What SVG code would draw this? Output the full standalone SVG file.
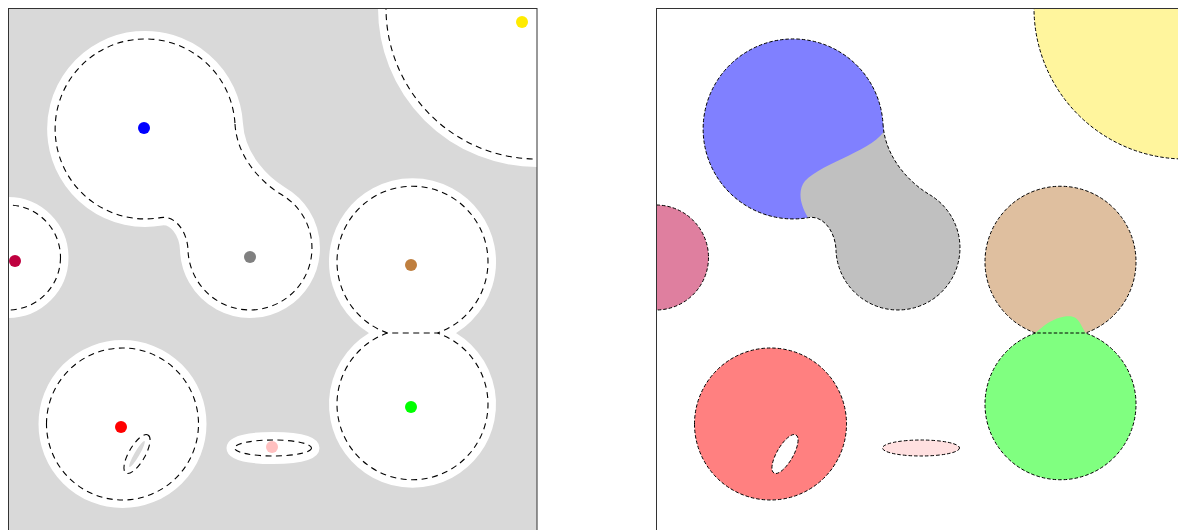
<svg xmlns="http://www.w3.org/2000/svg" xmlns:xlink="http://www.w3.org/1999/xlink" width="1178" height="530" viewBox="0 0 1178 530">
<style>
.halo{fill:#fff;stroke:#fff;stroke-width:16;stroke-linejoin:round}
.dl{fill:none;stroke:#000;stroke-width:1.1;stroke-dasharray:6,4.5}
.dr{stroke:#000;stroke-width:1;stroke-dasharray:3.5,2}
.frame{fill:none;stroke:#333;stroke-width:1}
</style>
<defs>
<clipPath id="panel"><rect x="8" y="8" width="529" height="530"/></clipPath>
<path id="blob" d="M235,124 C237,159 263.7,184 281,194.3 A62,62 0 1 1 188,250.2 C187.5,232 175.4,215 160.6,217.6 A90,90 0 1 1 235,124 Z"/>
<clipPath id="blobClip"><use xlink:href="#blob"/></clipPath>
<circle id="crim" cx="8" cy="257.5" r="52.5"/>
<circle id="yel" cx="537" cy="8" r="151"/>
<path id="brown" d="M387.5,333 A75.5,75.5 0 1 1 437.5,333 Z"/>
<path id="green" d="M387.5,333 A75.5,75.5 0 1 0 437.5,333 Z"/>
<path id="greenArc" d="M387.5,333 A75.5,75.5 0 1 0 437.5,333"/>
<path id="red" fill-rule="evenodd" d="M46.5,424 A76,76 0 1 1 198.5,424 A76,76 0 1 1 46.5,424 Z M148,434.95 A22,8 -60 1 1 126,473.05 A22,8 -60 1 1 148,434.95 Z"/>
<ellipse id="pinkE" cx="273" cy="448" rx="38.5" ry="8"/>
</defs>

<!-- left panel -->
<g id="left-panel" clip-path="url(#panel)">
  <rect x="8" y="8" width="529" height="530" fill="#d9d9d9"/>
  <g id="halos">
    <use xlink:href="#blob" class="halo"/>
    <use xlink:href="#crim" class="halo"/>
    <use xlink:href="#yel" class="halo"/>
    <use xlink:href="#brown" class="halo"/>
    <use xlink:href="#green" class="halo"/>
    <use xlink:href="#red" class="halo" fill-rule="evenodd"/>
    <use xlink:href="#pinkE" class="halo"/>
    <ellipse cx="137" cy="454" rx="15" ry="2.5" transform="rotate(-60 137 454)" fill="#d9d9d9"/>
  </g>
  <g id="L-blue-gray">
    <use xlink:href="#blob" class="dl"/>
    <circle cx="144" cy="128" r="6" fill="#0000ff"/>
    <circle cx="250" cy="257" r="6" fill="#808080"/>
  </g>
  <g id="L-crimson">
    <use xlink:href="#crim" class="dl"/>
    <circle cx="15" cy="261" r="6" fill="#bf003f"/>
  </g>
  <g id="L-yellow">
    <use xlink:href="#yel" class="dl"/>
    <circle cx="522" cy="22" r="6" fill="#ffeb00"/>
  </g>
  <g id="L-brown">
    <use xlink:href="#brown" class="dl"/>
    <circle cx="411" cy="265" r="6" fill="#bf7f3f"/>
  </g>
  <g id="L-green">
    <use xlink:href="#greenArc" class="dl"/>
    <circle cx="411" cy="407" r="6" fill="#00ff00"/>
  </g>
  <g id="L-red">
    <use xlink:href="#red" class="dl"/>
    <circle cx="121" cy="427" r="6" fill="#ff0000"/>
  </g>
  <g id="L-pink">
    <use xlink:href="#pinkE" class="dl"/>
    <circle cx="272" cy="447" r="6" fill="#ffc0c0"/>
  </g>
</g>
<rect class="frame" x="8.5" y="8.5" width="528.5" height="540"/>

<!-- right panel -->
<g id="right-panel" transform="translate(648,0)" clip-path="url(#panel)">
  <g id="R-blue-gray">
    <use xlink:href="#blob" fill="#c0c0c0"/>
    <path clip-path="url(#blobClip)" fill="#8080ff" d="M238,128 C228,150 175,162 157,181 C149,191 152,207 163,222 L0,300 L0,0 L300,0 L300,100 Z"/>
    <use xlink:href="#blob" class="dr" fill="none"/>
  </g>
  <g id="R-crimson">
    <use xlink:href="#crim" class="dr" fill="#df7f9f"/>
  </g>
  <g id="R-yellow">
    <use xlink:href="#yel" class="dr" fill="#fff59d"/>
  </g>
  <g id="R-brown">
    <use xlink:href="#brown" fill="#dfbf9f"/>
  </g>
  <g id="R-green">
    <use xlink:href="#green" fill="#80ff80"/>
    <path fill="#80ff80" d="M387.5,333 C395,326 405,318 418,316.3 C426,315.5 429,318 432,323 L437.5,333 Z"/>
    <use xlink:href="#greenArc" class="dr" fill="none"/>
  </g>
  <use xlink:href="#brown" class="dr" fill="none"/>
  <g id="R-red">
    <use xlink:href="#red" class="dr" fill="#ff8080" fill-rule="evenodd"/>
  </g>
  <g id="R-pink">
    <use xlink:href="#pinkE" class="dr" fill="#ffe0e0"/>
  </g>
</g>
<rect class="frame" x="656.5" y="8.5" width="600" height="540"/>
</svg>
